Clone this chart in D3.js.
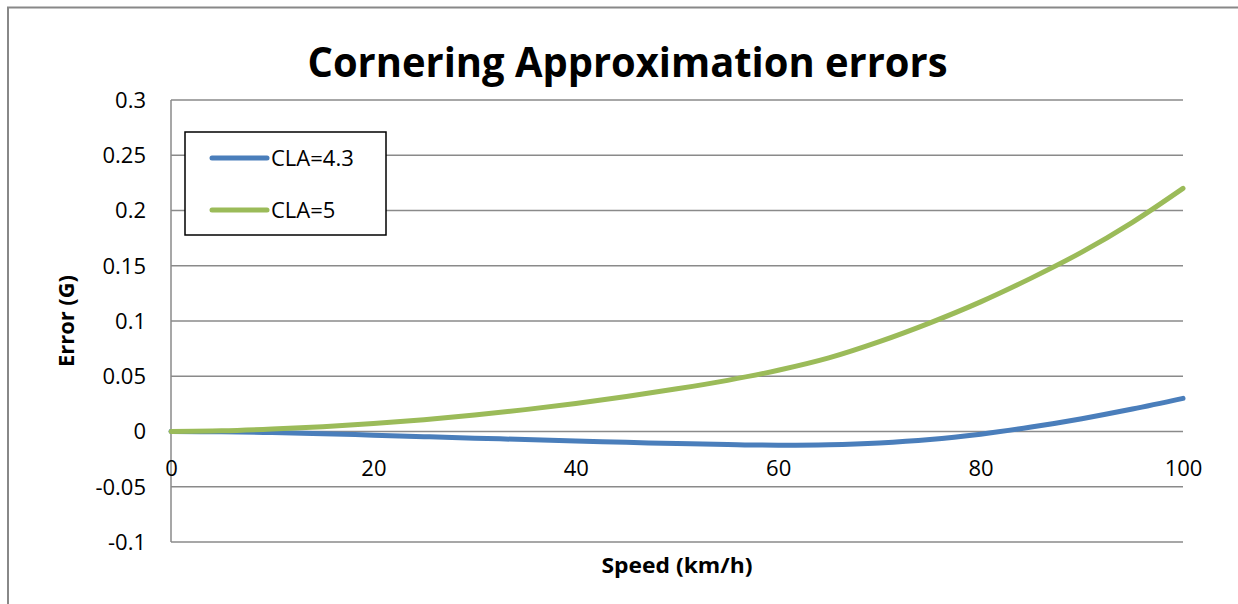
<!DOCTYPE html>
<html>
<head>
<meta charset="utf-8">
<script src="https://cdn.jsdelivr.net/npm/d3@7"></script>
<style>
  html, body { margin: 0; padding: 0; background: #ffffff; }
  svg { display: block; }
</style>
</head>
<body>
<svg id="chart" width="1238" height="604"></svg>
<script>
// Speed samples (km/h) and cornering error (G) per series
const speeds = [0, 5, 10, 15, 20, 25, 30, 35, 40, 45, 50, 55, 60, 65, 70, 75, 80, 85, 90, 95, 100];
const errCLA43 = [0, -0.0003, -0.001, -0.002, -0.0033, -0.0047, -0.006, -0.0073, -0.0086, -0.0098, -0.0109,
                  -0.0118, -0.0124, -0.012, -0.0104, -0.0073, -0.0024, 0.004, 0.0116, 0.0203, 0.030];
const errCLA5 = [0, 0.0006, 0.0022, 0.0044, 0.0072, 0.0107, 0.0149, 0.0198, 0.0254, 0.0317, 0.0386,
                 0.0463, 0.0554, 0.0666, 0.0813, 0.0983, 0.1173, 0.1388, 0.1623, 0.1893, 0.220];
const seriesNames = ["CLA=4.3", "CLA=5"];
const xTickValues = [0, 20, 40, 60, 80, 100];
const yTickValues = [0.3, 0.25, 0.2, 0.15, 0.1, 0.05, 0, -0.05, -0.1];
const yTickLabels = ["0.3", "0.25", "0.2", "0.15", "0.1", "0.05", "0", "-0.05", "-0.1"];

const svg = d3.select("#chart");
const colors = ["#4a7ebb", "#9bbb59"];
const gridColor = "#8a8a8a";
const font = "'Open Sans', 'Liberation Sans', sans-serif";

const plot = { left: 171, right: 1183, top: 100, bottom: 542 };

const x = d3.scaleLinear().domain([0, 100]).range([plot.left, plot.right]);
const y = d3.scaleLinear().domain([-0.1, 0.3]).range([plot.bottom, plot.top]);

// outer chart frame (runs off the right and bottom edges)
svg.append("path")
  .attr("d", "M8,1000 V7.5 H1300")
  .attr("fill", "none")
  .attr("stroke", "#888")
  .attr("stroke-width", 2);

// horizontal gridlines
svg.append("g")
  .selectAll("line")
  .data(yTickValues)
  .join("line")
  .attr("x1", plot.left).attr("x2", plot.right)
  .attr("y1", d => y(d)).attr("y2", d => y(d))
  .attr("stroke", gridColor)
  .attr("stroke-width", 1.5);

// vertical axis line
svg.append("line")
  .attr("x1", plot.left).attr("x2", plot.left)
  .attr("y1", plot.top).attr("y2", plot.bottom)
  .attr("stroke", gridColor)
  .attr("stroke-width", 1.5);

// y axis labels
const yAxis = d3.axisLeft(y)
  .tickValues(yTickValues)
  .tickFormat((d, i) => yTickLabels[i])
  .tickSize(0)
  .tickPadding(25);
const gy = svg.append("g").attr("transform", `translate(${plot.left},0)`).call(yAxis);
gy.select(".domain").remove();
gy.selectAll("text")
  .attr("font-family", font)
  .attr("font-size", 22)
  .attr("fill", "#000")
  .attr("dy", "0.34em");

// x axis labels sit on the zero line
const xAxis = d3.axisBottom(x)
  .tickValues(xTickValues)
  .tickFormat(d3.format("d"))
  .tickSize(0)
  .tickPadding(29);
const gx = svg.append("g").attr("transform", `translate(0,${y(0)})`).call(xAxis);
gx.select(".domain").remove();
gx.selectAll("text")
  .attr("font-family", font)
  .attr("font-size", 22)
  .attr("fill", "#000");

// series lines
const line = d3.line()
  .x((d, i) => x(speeds[i]))
  .y(d => y(d))
  .curve(d3.curveCatmullRom.alpha(0.5));

[errCLA43, errCLA5].forEach((vals, k) => {
  svg.append("path")
    .datum(vals)
    .attr("d", line)
    .attr("fill", "none")
    .attr("stroke", colors[k])
    .attr("stroke-width", 5)
    .attr("stroke-linejoin", "round")
    .attr("stroke-linecap", "round");
});

// title
svg.append("text")
  .attr("x", 627.5)
  .attr("y", 77)
  .attr("text-anchor", "middle")
  .attr("font-family", font)
  .attr("font-weight", "bold")
  .attr("font-size", 42)
  .attr("textLength", 640)
  .attr("lengthAdjust", "spacingAndGlyphs")
  .attr("fill", "#000")
  .text("Cornering Approximation errors");

// axis titles
svg.append("text")
  .attr("x", (plot.left + plot.right) / 2)
  .attr("y", 573)
  .attr("text-anchor", "middle")
  .attr("font-family", font)
  .attr("font-weight", "bold")
  .attr("font-size", 21)
  .attr("textLength", 151)
  .attr("lengthAdjust", "spacingAndGlyphs")
  .attr("fill", "#000")
  .text("Speed (km/h)");

svg.append("text")
  .attr("transform", `translate(74,${(plot.top + plot.bottom) / 2}) rotate(-90)`)
  .attr("text-anchor", "middle")
  .attr("font-family", font)
  .attr("font-weight", "bold")
  .attr("font-size", 21)
  .attr("textLength", 92)
  .attr("lengthAdjust", "spacingAndGlyphs")
  .attr("fill", "#000")
  .text("Error (G)");

// legend
const legend = svg.append("g").attr("transform", "translate(185,132)");
legend.append("rect")
  .attr("width", 201).attr("height", 103)
  .attr("fill", "#fff")
  .attr("stroke", "#000")
  .attr("stroke-width", 1.5);
const items = legend.selectAll("g.item")
  .data(seriesNames)
  .join("g")
  .attr("class", "item")
  .attr("transform", (d, i) => `translate(0,${26 + i * 52})`);
items.append("line")
  .attr("x1", 27).attr("x2", 82)
  .attr("stroke", (d, i) => colors[i])
  .attr("stroke-width", 5)
  .attr("stroke-linecap", "round");
items.append("text")
  .attr("x", 86)
  .attr("dy", "0.35em")
  .attr("font-family", font)
  .attr("font-size", 22)
  .attr("fill", "#000")
  .text(d => d);
</script>
</body>
</html>
